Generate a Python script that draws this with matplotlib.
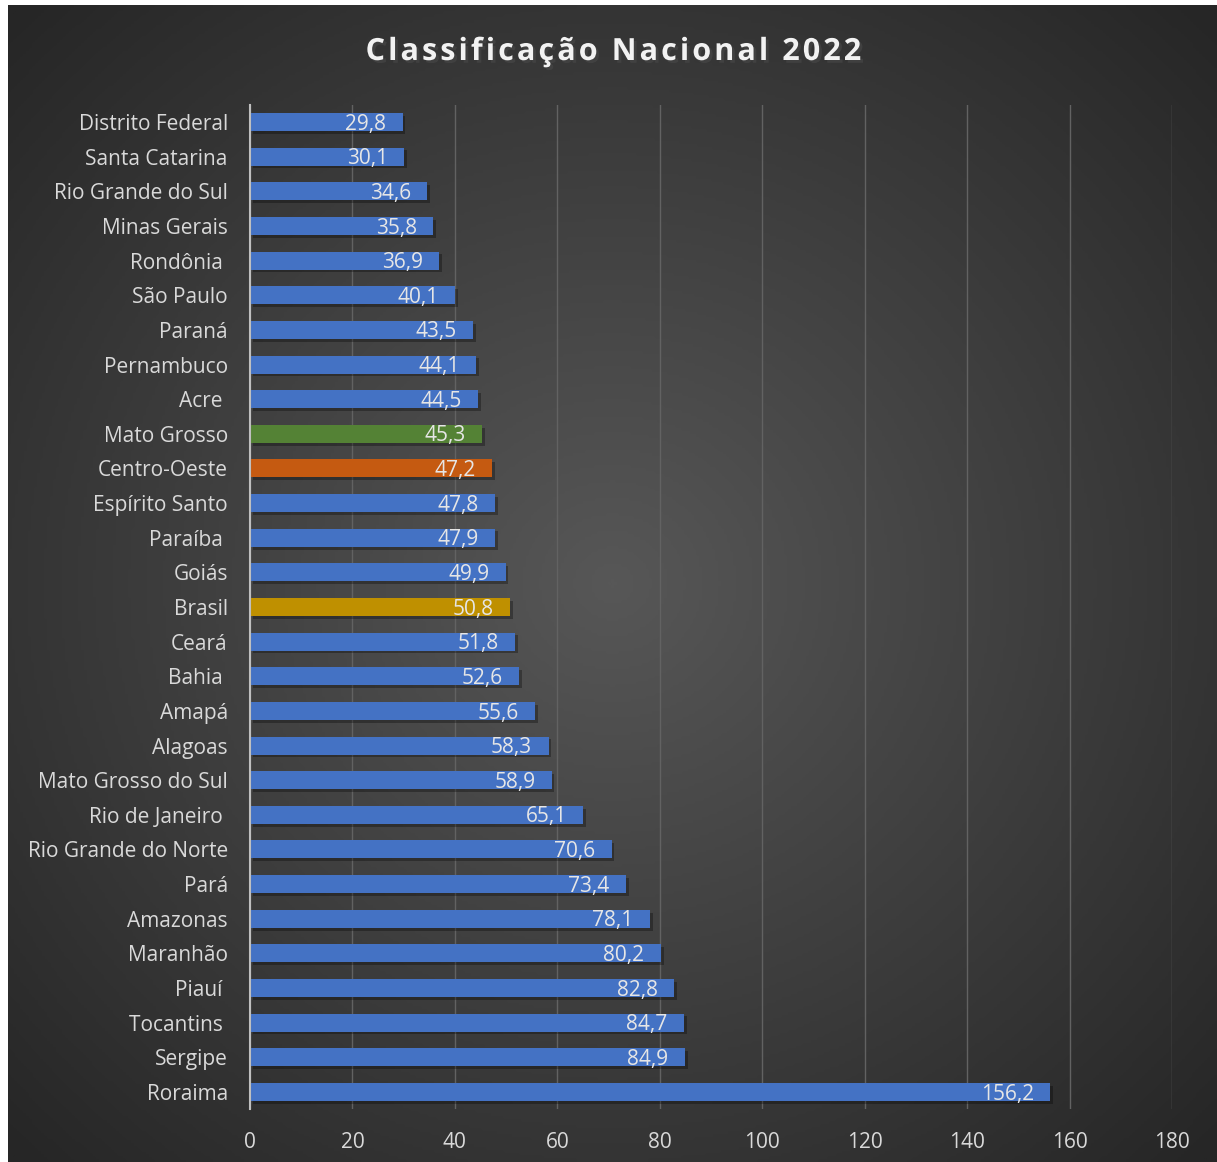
import numpy as np
import matplotlib.pyplot as plt
import matplotlib.patheffects as pe
from matplotlib.colors import LinearSegmentedColormap

estados = ["Distrito Federal", "Santa Catarina", "Rio Grande do Sul", "Minas Gerais",
           "Rondônia ", "São Paulo", "Paraná", "Pernambuco", "Acre ", "Mato Grosso",
           "Centro-Oeste", "Espírito Santo", "Paraíba ", "Goiás", "Brasil", "Ceará",
           "Bahia ", "Amapá", "Alagoas", "Mato Grosso do Sul", "Rio de Janeiro ",
           "Rio Grande do Norte", "Pará", "Amazonas", "Maranhão", "Piauí ",
           "Tocantins ", "Sergipe", "Roraima"]
valores = [29.8, 30.1, 34.6, 35.8, 36.9, 40.1, 43.5, 44.1, 44.5, 45.3,
           47.2, 47.8, 47.9, 49.9, 50.8, 51.8, 52.6, 55.6, 58.3, 58.9,
           65.1, 70.6, 73.4, 78.1, 80.2, 82.8, 84.7, 84.9, 156.2]
destaques = {"Mato Grosso": "#548235", "Centro-Oeste": "#C55A11", "Brasil": "#BF9000"}
azul = "#4472C4"
titulo = "Classificação Nacional 2022"

plt.rcParams["font.family"] = ["Open Sans", "DejaVu Sans"]

fig = plt.figure(figsize=(12.17, 11.62), dpi=100)
fig.patch.set_facecolor("white")

# dark radial background of the chart area
bg = fig.add_axes([8 / 1217, 0, 1 - 8 / 1217, 1 - 5 / 1162])
yy, xx = np.mgrid[-1:1:400j, -1:1:400j]
r = np.sqrt(xx ** 2 + yy ** 2)
grad = np.clip(1 - r / 1.4, 0, 1)
bg.imshow(grad, cmap=LinearSegmentedColormap.from_list("bg", ["#262626", "#575757"]),
          extent=[0, 1, 0, 1], aspect="auto")
bg.set_axis_off()

ax = fig.add_axes([250 / 1217, 0.04535, (1172 - 250) / 1217, 0.9099 - 0.04535])
ax.set_facecolor("none")

pos = np.arange(len(estados))
cores = [destaques.get(e.strip(), azul) for e in estados]
bars = ax.barh(pos, valores, height=0.52, color=cores, zorder=3)
for b in bars:
    b.set_path_effects([pe.SimplePatchShadow(offset=(2, -2), shadow_rgbFace="black", alpha=0.3),
                        pe.Normal()])

for p, v in zip(pos, valores):
    ax.text(v - 3.2, p + 0.06, f"{v:.1f}".replace(".", ","), ha="right", va="center",
            color="#e6e6e6", fontsize=15, zorder=4)

ax.set_ylim(len(estados) - 0.5, -0.5)
ax.set_xlim(0, 180)
ax.set_xticks(np.arange(0, 181, 20))
ax.set_yticks(pos)
ax.set_yticklabels(estados)
ax.tick_params(axis="both", length=0, colors="#d9d9d9", labelsize=15)
ax.tick_params(axis="y", pad=16)
ax.tick_params(axis="x", pad=16)
ax.grid(axis="x", color="#626262", linewidth=1, zorder=0)
for s in ["top", "right", "bottom"]:
    ax.spines[s].set_visible(False)
ax.spines["left"].set_color("#bfbfbf")
ax.spines["left"].set_linewidth(1.5)
ax.spines["left"].set_zorder(5)

# title with wide letter spacing
fig.text(0.503, 1 - 52 / 1162, "\u200a".join(titulo), ha="center", va="center",
         color="#f2f2f2", fontsize=22, fontweight="bold",
         path_effects=[pe.SimplePatchShadow(offset=(2, -2), alpha=0.6), pe.Normal()])

fig.savefig("out.png", dpi=100, facecolor=fig.get_facecolor())
